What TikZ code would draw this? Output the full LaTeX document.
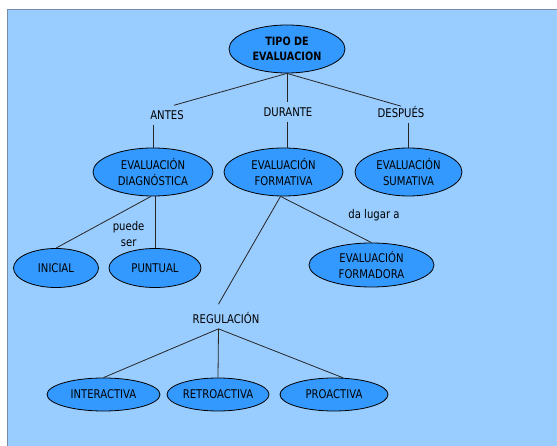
\documentclass[tikz,border=0pt]{standalone}
\usepackage{fontspec}
\setmainfont{DejaVu Sans}[FakeStretch=0.84]
\usetikzlibrary{shapes.geometric}
\definecolor{bgblue}{RGB}{153,204,255}
\definecolor{ellblue}{RGB}{51,153,255}
\definecolor{framegray}{RGB}{120,140,170}
\tikzset{
  concept/.style={ellipse, draw=black, line width=0.8pt, fill=ellblue, inner sep=0pt, align=center, font=\fontsize{12}{15.5}\selectfont},
  label/.style={inner sep=5pt, align=center, font=\fontsize{12}{15.5}\selectfont},
  link/.style={draw=black!85, line width=0.8pt}
}
\begin{document}
\begin{tikzpicture}[x=1pt,y=-1pt]
\useasboundingbox (0,0) rectangle (557,446);
\fill[bgblue] (7,10) rectangle (557,446);
\draw[framegray, line width=1pt] (7,446) -- (7,10) -- (557,10);

% concepts
\node[concept, minimum width=116pt, minimum height=48pt, font=\fontsize{11.5}{15}\selectfont\bfseries] (tipo) at (287,49) {TIPO DE\\EVALUACION};
\node[concept, minimum width=120pt, minimum height=48pt] (diag) at (153,172) {EVALUACIÓN\\DIAGNÓSTICA};
\node[concept, minimum width=119pt, minimum height=48pt] (form) at (283.5,172) {EVALUACIÓN\\FORMATIVA};
\node[concept, minimum width=107pt, minimum height=48pt] (suma) at (408.5,172) {EVALUACIÓN\\SUMATIVA};
\node[concept, minimum width=85pt, minimum height=39pt] (inicial) at (56,268) {INICIAL};
\node[concept, minimum width=92pt, minimum height=39pt] (puntual) at (155,268) {PUNTUAL};
\node[concept, minimum width=125pt, minimum height=44pt] (formadora) at (371.5,265) {EVALUACIÓN\\FORMADORA};
\node[concept, minimum width=113pt, minimum height=33pt] (inter) at (103.5,394.5) {INTERACTIVA};
\node[concept, minimum width=102pt, minimum height=33pt] (retro) at (218,394.5) {RETROACTIVA};
\node[concept, minimum width=108pt, minimum height=33pt] (pro) at (334,394.5) {PROACTIVA};

% labels
\node[label] (antes) at (167,115) {ANTES};
\node[label] (durante) at (288,112) {DURANTE};
\node[label] (despues) at (401,112) {DESPUÉS};
\node[label] (regul) at (226,318) {REGULACIÓN};
\node[label, inner sep=0pt] (puede) at (128.6,234) {puede\\ser};
\node[label, inner sep=0pt] (dalugar) at (374,215) {da lugar a};

% connectors
\draw[link] (tipo.south) -- ([xshift=7pt]antes.north);
\draw[link] (tipo.south) -- (tipo.south |- durante.north);
\draw[link] (tipo.south) -- ([yshift=-5pt]despues.north);
\draw[link] (antes.south -| diag.north) -- (diag.north);
\draw[link] (durante.south -| tipo.south) -- (form.north -| tipo.south);
\draw[link] (despues.south -| suma.north) -- (suma.north);
\draw[link] ([xshift=-2pt]diag.south) -- (inicial.north);
\draw[link] (puntual.north |- diag.south) -- (puntual.north);
\draw[link] ([xshift=-3pt]form.south) -- (formadora.north);
\draw[link] ([xshift=-3pt]form.south) -- ([xshift=-7.5pt,yshift=3pt]regul.north);
\draw[link] ([xshift=-7.5pt]regul.south) -- (inter.north);
\draw[link] ([xshift=-7.5pt]regul.south) -- (retro.north);
\draw[link] ([xshift=-7.5pt]regul.south) -- (pro.61);
\end{tikzpicture}
\end{document}
